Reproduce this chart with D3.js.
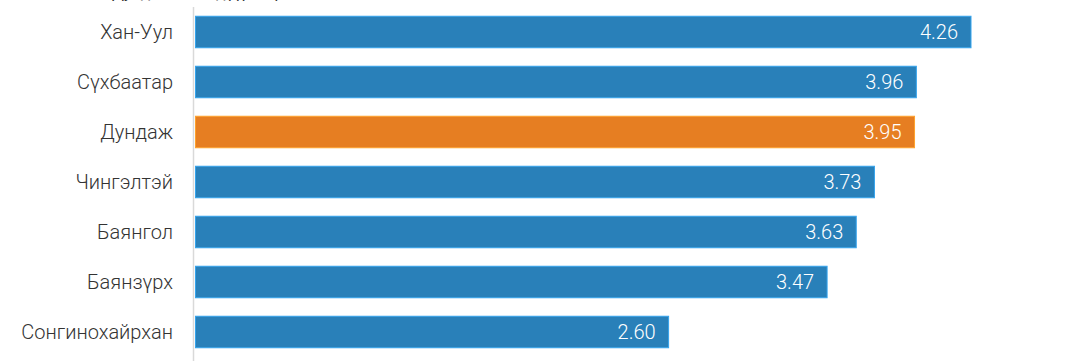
<!DOCTYPE html>
<html>
<head>
<meta charset="utf-8">
<script src="https://cdn.jsdelivr.net/npm/d3@7"></script>
<style>
  html, body { margin: 0; padding: 0; background: #fff; }
  svg { display: block; }
</style>
</head>
<body>
<svg id="chart"></svg>
<script>
// District names, top to bottom
const districts = ["Хан-Уул", "Сүхбаатар", "Дундаж", "Чингэлтэй", "Баянгол", "Баянзүрх", "Сонгинохайрхан"];
// Average score per district
const scores = [4.26, 3.96, 3.95, 3.73, 3.63, 3.47, 2.60];
// The row that is highlighted
const highlight = ["Дундаж"];

const width = 1070, height = 361;
const blue = "#2980b9", orange = "#e67e22";

const svg = d3.select("#chart")
    .attr("width", width)
    .attr("height", height)
    .style("font-family", "Roboto, sans-serif");

const data = districts.map((name, i) => ({ name, value: scores[i] }));

// Scales
const x = d3.scaleLinear()
    .domain([0, d3.max(scores)])
    .range([195, 971]);

const y = d3.scaleBand()
    .domain(districts)
    .range([7, 357])
    .paddingInner(0.37)
    .paddingOuter(0.185);

// title, mostly above the visible area
svg.append("text")
    .attr("x", 112)
    .attr("y", -2)
    .attr("fill", "#333")
    .style("font-size", "16px")
    .text("Дундаж оноо дүүргээр");

// bars
const fillOf = d => highlight.includes(d.name) ? orange : blue;

svg.append("g")
  .selectAll("rect")
  .data(data)
  .join("rect")
    .attr("x", x(0) + 0.5)
    .attr("y", d => y(d.name))
    .attr("width", d => x(d.value) - x(0) - 0.5)
    .attr("height", y.bandwidth())
    .attr("fill", fillOf)
    .attr("stroke", d => d3.color(fillOf(d)).brighter(0.7))
    .attr("stroke-width", 1);

// vertical axis line
svg.append("line")
    .attr("x1", x(0) - 1.5)
    .attr("x2", x(0) - 1.5)
    .attr("y1", 7)
    .attr("y2", height)
    .attr("stroke", "#d9d9d9")
    .attr("stroke-width", 1.5);

// category labels
svg.append("g")
    .attr("text-anchor", "end")
  .selectAll("text")
  .data(data)
  .join("text")
    .attr("x", 173)
    .attr("y", d => y(d.name) + y.bandwidth() / 2)
    .attr("dy", "0.35em")
    .attr("fill", "#333")
    .style("font-size", "20px")
    .style("font-weight", 300)
    .text(d => d.name);

// value labels inside bars
svg.append("g")
    .attr("text-anchor", "end")
  .selectAll("text")
  .data(data)
  .join("text")
    .attr("x", d => x(d.value) - 13)
    .attr("y", d => y(d.name) + y.bandwidth() / 2)
    .attr("dy", "0.36em")
    .attr("fill", "#fff")
    .style("font-size", "20px")
    .style("font-weight", 300)
    .text(d => d3.format(".2f")(d.value));
</script>
</body>
</html>
